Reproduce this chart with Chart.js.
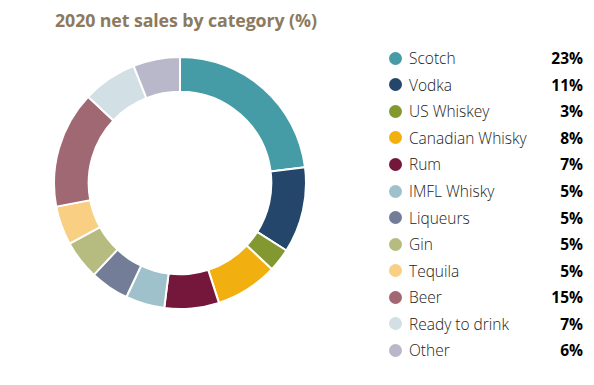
<!DOCTYPE html>
<html>
<head>
<meta charset="utf-8">
<script src="https://cdn.jsdelivr.net/npm/chart.js@4/dist/chart.umd.min.js"></script>
<style>
  body { margin: 0; width: 594px; height: 385px; background: #fff; position: relative; overflow: hidden; font-family: "Open Sans", sans-serif; }
  #title { position: absolute; left: 55px; top: 8px; font-size: 17.8px; font-weight: bold; color: #8c7a5f; letter-spacing: -0.1px; }
  #chartBox { position: absolute; left: 53px; top: 56px; width: 254px; height: 254px; }
  #legend { position: absolute; left: 389px; top: 45px; width: 194px; }
  .row { height: 26.55px; display: flex; align-items: center; font-size: 15.5px; }
  .dot { width: 13px; height: 13px; border-radius: 50%; margin-right: 7px; flex: none; }
  .name { flex: 1; color: #222; font-weight: 300; }
  .pct { font-weight: bold; color: #000; text-align: right; }
</style>
</head>
<body>
<div id="title">2020 net sales by category (%)</div>
<div id="chartBox"><canvas id="graph"></canvas></div>
<div id="legend"></div>
<script>
//categories and their share of net sales
const categories = ["Scotch", "Vodka", "US Whiskey", "Canadian Whisky", "Rum", "IMFL Whisky",
    "Liqueurs", "Gin", "Tequila", "Beer", "Ready to drink", "Other"];
const shares = [23, 11, 3, 8, 7, 5, 5, 5, 5, 15, 7, 6];
const colors = ["#459ca6", "#23466a", "#849831", "#f2b010", "#74173b", "#9ec1cb",
    "#737d98", "#b6bc7f", "#f8cf83", "#a06873", "#d2dfe4", "#b8b8ca"];

//building the legend rows (name on the left, percent on the right)
function buildLegend () {
    let legend = document.getElementById("legend");
    for (let i = 0; i < categories.length; i++) {
        let row = document.createElement("div");
        row.className = "row";
        row.innerHTML = `<span class="dot" style="background:${colors[i]}"></span>` +
            `<span class="name">${categories[i]}</span>` +
            `<span class="pct">${shares[i]}%</span>`;
        legend.appendChild(row);
    }
}

function drawGraph () {
    let ctx = document.getElementById("graph").getContext('2d');
    new Chart(ctx, {
        type: 'doughnut',
        data: {
            labels: categories,
            datasets: [{
                data: shares,
                backgroundColor: colors,
                borderColor: "#ffffff",
                borderWidth: 2
            }]
        },
        options: {
            maintainAspectRatio: false,
            responsive: true,
            animation: false,
            cutout: '72.5%',
            layout: { padding: 0 },
            plugins: {
                legend: { display: false },
                tooltip: { enabled: false }
            }
        }
    });
}

buildLegend();
drawGraph();
</script>
</body>
</html>
